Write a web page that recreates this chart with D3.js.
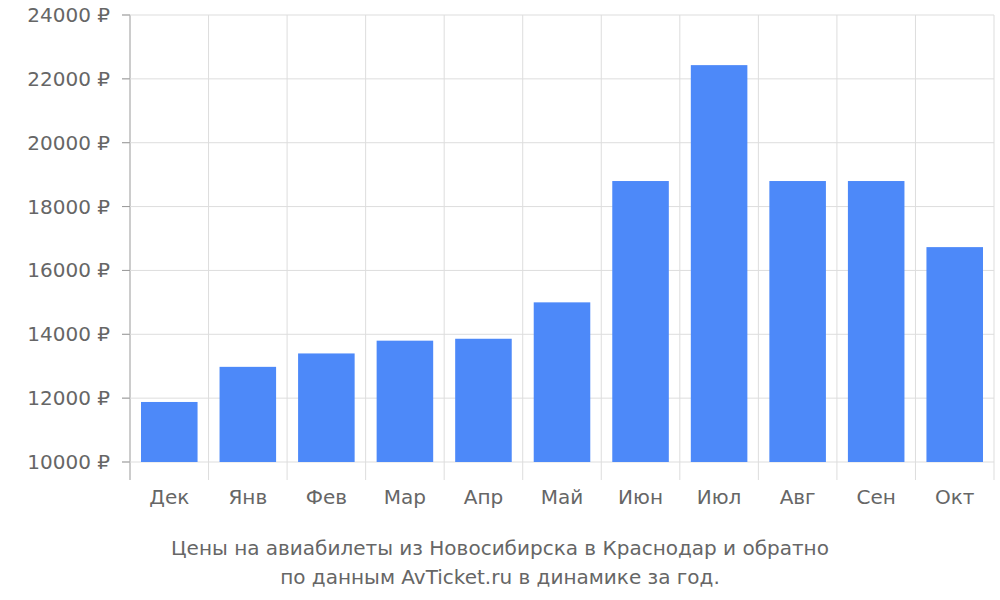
<!DOCTYPE html>
<html><head><meta charset="utf-8">
<script src="https://cdn.jsdelivr.net/npm/d3@7"></script>
<style>body{margin:0;background:#fff}text{font-family:"DejaVu Sans",sans-serif;fill:#666}</style>
</head><body><svg id="c" width="1000" height="600"></svg>
<script>
const categories=["Дек","Янв","Фев","Мар","Апр","Май","Июн","Июл","Авг","Сен","Окт"];
const values=[11880,12980,13400,13800,13860,15000,18800,22430,18800,18800,16730];
const yTicks=[10000,12000,14000,16000,18000,20000,22000,24000];
const titleLines=["Цены на авиабилеты из Новосибирска в Краснодар и обратно","по данным AvTicket.ru в динамике за год."];

const svg=d3.select("#c");
const L=130,R=994,T=15,B=462;
const x=d3.scaleBand().domain(categories).range([L,R]).paddingInner(0.28).paddingOuter(0.14);
const y=d3.scaleLinear().domain([10000,24000]).range([B,T]);
const step=x.step();
// vertical grid
const bounds=d3.range(categories.length+1).map(i=>L+i*(R-L)/categories.length);
svg.selectAll(".vg").data(bounds).join("line").attr("x1",d=>d).attr("x2",d=>d)
 .attr("y1",T).attr("y2",480).attr("stroke",(d,i)=>i==0?"#999":"#ddd").attr("stroke-width",1);
// horizontal grid
svg.selectAll(".hg").data(yTicks).join("line").attr("x1",L-8).attr("x2",R)
 .attr("y1",d=>y(d)).attr("y2",d=>y(d)).attr("stroke","#ddd");
svg.selectAll(".yt").data(yTicks).join("line").attr("x1",L-8).attr("x2",L)
 .attr("y1",d=>y(d)).attr("y2",d=>y(d)).attr("stroke","#999");
svg.selectAll(".yl").data(yTicks).join("text").attr("x",L-20).attr("y",d=>y(d)+7)
 .attr("text-anchor","end").attr("font-size",20).text(d=>d+" ₽");
// bars
svg.selectAll(".b").data(values).join("rect").attr("x",(d,i)=>x(categories[i]))
 .attr("width",x.bandwidth()).attr("y",d=>y(d)).attr("height",d=>B-y(d)).attr("fill","#4d89f9");
svg.selectAll(".xl").data(categories).join("text").attr("x",d=>x(d)+x.bandwidth()/2)
 .attr("y",504).attr("text-anchor","middle").attr("font-size",20).text(d=>d);
svg.selectAll(".t").data(titleLines).join("text").attr("x",500).attr("y",(d,i)=>555+i*29)
 .attr("text-anchor","middle").attr("font-size",20).text(d=>d);
</script></body></html>
